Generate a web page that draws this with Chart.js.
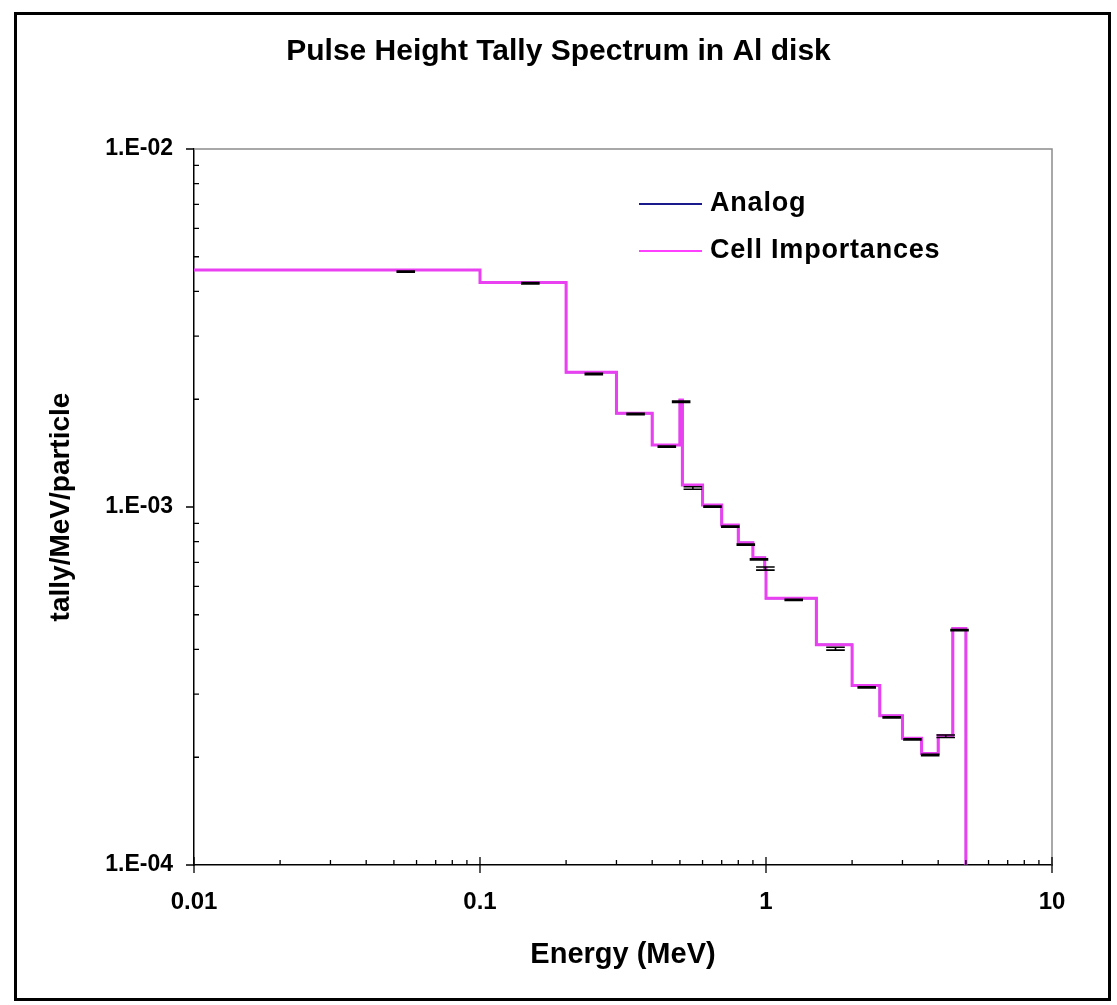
<!DOCTYPE html>
<html>
<head>
<meta charset="utf-8">
<title>Pulse Height Tally Spectrum in Al disk</title>
<script src="https://cdn.jsdelivr.net/npm/chart.js@4/dist/chart.umd.min.js"></script>
<style>
  html, body { margin: 0; padding: 0; background: #fff; }
  #wrap { position: relative; width: 1117px; height: 1005px; }
  #frame { position: absolute; left: 14px; top: 12px; width: 1097px; height: 989px;
           border: 3px solid #000; box-sizing: border-box; pointer-events: none; }
</style>
</head>
<body>
<div id="wrap">
  <canvas id="phtChart" width="1117" height="1005"></canvas>
  <div id="frame"></div>
</div>
<script>
// energy bin edges (MeV)
const binEdges = [0.01, 0.1, 0.2, 0.3, 0.4, 0.5, 0.51, 0.6, 0.7, 0.8, 0.9, 0.99, 1.0,
                  1.5, 2.0, 2.5, 3.0, 3.5, 4.0, 4.5, 5.0];

// tally/MeV/particle per bin
const cellImpTally = [4.59e-3, 4.24e-3, 2.378e-3, 1.827e-3, 1.490e-3, 1.99e-3, 1.152e-3,
                      1.013e-3, 8.91e-4, 7.95e-4, 7.22e-4, 6.75e-4, 5.56e-4, 4.12e-4,
                      3.17e-4, 2.61e-4, 2.26e-4, 2.05e-4, 2.30e-4, 4.58e-4];
const analogTally = [4.59e-3, 4.24e-3, 2.378e-3, 1.827e-3, 1.490e-3, 1.99e-3, 1.152e-3,
                     1.013e-3, 8.91e-4, 7.95e-4, 7.22e-4, 6.75e-4, 5.56e-4, 4.12e-4,
                     3.17e-4, 2.61e-4, 2.26e-4, 2.05e-4, 2.30e-4, 4.58e-4];

// error bars (analog run), at bin midpoints
const errBarMean = [4.543e-3, 4.216e-3, 2.352e-3, 1.819e-3, 1.474e-3, 1.968e-3, 1.130e-3,
                    1.002e-3, 8.81e-4, 7.85e-4, 7.14e-4, 6.73e-4, 5.50e-4, 4.02e-4,
                    3.135e-4, 2.585e-4, 2.244e-4, 2.029e-4, 2.290e-4, 4.53e-4];
const errBarRel = [0.004, 0.004, 0.004, 0.004, 0.004, 0.005, 0.008, 0.004, 0.004, 0.004,
                   0.004, 0.010, 0.004, 0.009, 0.004, 0.004, 0.004, 0.004, 0.008, 0.004];

const yMin = 1e-4;
const yMax = 1e-2;
const xMin = 0.01;
const xMax = 10;

const FONT = '"Liberation Sans", Arial, sans-serif';

// histogram as step points; after the last edge the tally is zero -> drop to floor
function stepPoints(vals) {
  return binEdges.map((e, i) => ({ x: e, y: i < vals.length ? vals[i] : yMin }));
}

const titlePlugin = {
  id: 'mainTitle',
  afterDraw(chart) {
    const ctx = chart.ctx;
    ctx.save();
    ctx.font = 'bold 30px ' + FONT;
    ctx.fillStyle = '#000';
    ctx.textAlign = 'center';
    ctx.textBaseline = 'middle';
    ctx.fillText('Pulse Height Tally Spectrum in Al disk', chart.width / 2, 52);
    ctx.restore();
  }
};

const frameAndTicks = {
  id: 'frameAndTicks',
  afterDraw(chart) {
    const { ctx, chartArea: a, scales: { x, y } } = chart;
    ctx.save();
    // gray top / right of plot area
    ctx.strokeStyle = '#8c8c8c';
    ctx.lineWidth = 1.5;
    ctx.beginPath();
    ctx.moveTo(a.left, a.top);
    ctx.lineTo(a.right, a.top);
    ctx.lineTo(a.right, a.bottom);
    ctx.stroke();

    ctx.strokeStyle = '#000';
    ctx.lineWidth = 1.3;
    ctx.beginPath();
    for (let ex = -4; ex <= -2; ex++) {
      for (let m = 1; m <= 9; m++) {
        const v = m * Math.pow(10, ex);
        if (v > yMax * 1.0001) break;
        const py = y.getPixelForValue(v);
        if (m === 1) { ctx.moveTo(a.left - 8, py); ctx.lineTo(a.left, py); }
        else { ctx.moveTo(a.left, py); ctx.lineTo(a.left + 5, py); }
      }
    }
    for (let ex = -2; ex <= 1; ex++) {
      for (let m = 1; m <= 9; m++) {
        const v = m * Math.pow(10, ex);
        if (v > xMax * 1.0001) break;
        const px = x.getPixelForValue(v);
        if (m === 1) { ctx.moveTo(px, a.bottom - 8); ctx.lineTo(px, a.bottom + 8); }
        else { ctx.moveTo(px, a.bottom); ctx.lineTo(px, a.bottom - 5); }
      }
    }
    ctx.stroke();
    ctx.restore();
  }
};

const errorBars = {
  id: 'errorBars',
  afterDatasetsDraw(chart) {
    const { ctx, scales: { x, y } } = chart;
    ctx.save();
    ctx.strokeStyle = '#000';
    ctx.lineWidth = 1.6;
    ctx.beginPath();
    errBarMean.forEach((m, i) => {
      const mid = (binEdges[i] + binEdges[i + 1]) / 2;
      const px = x.getPixelForValue(mid);
      const yHi = y.getPixelForValue(m * (1 + errBarRel[i]));
      const yLo = y.getPixelForValue(m * (1 - errBarRel[i]));
      ctx.moveTo(px - 9.3, yHi); ctx.lineTo(px + 9.3, yHi);
      ctx.moveTo(px - 9.3, yLo); ctx.lineTo(px + 9.3, yLo);
      ctx.moveTo(px, yHi); ctx.lineTo(px, yLo);
    });
    ctx.stroke();
    ctx.restore();
  }
};

const legendBox = {
  id: 'legendBox',
  afterDraw(chart) {
    const ctx = chart.ctx;
    const rows = [
      { ds: chart.data.datasets[0], y: 204, color: '#1a1a8c' },
      { ds: chart.data.datasets[1], y: 251, color: '#ff40ff' }
    ];
    ctx.save();
    ctx.font = 'bold 27px ' + FONT;
    ctx.letterSpacing = '0.8px';
    ctx.textBaseline = 'middle';
    ctx.fillStyle = '#000';
    rows.forEach(r => {
      ctx.strokeStyle = r.color;
      ctx.lineWidth = 2;
      ctx.beginPath();
      ctx.moveTo(639, r.y);
      ctx.lineTo(702, r.y);
      ctx.stroke();
      ctx.fillText(r.ds.label, 710, r.y);
    });
    ctx.restore();
  }
};

new Chart(document.getElementById('phtChart'), {
  type: 'line',
  data: {
    datasets: [
      {
        label: 'Analog',
        data: stepPoints(analogTally),
        borderColor: '#000080',
        borderWidth: 2,
        stepped: 'before',
        pointRadius: 0,
        fill: false,
        order: 2
      },
      {
        label: 'Cell Importances',
        data: stepPoints(cellImpTally),
        borderColor: '#e940f2',
        borderWidth: 3,
        stepped: 'before',
        pointRadius: 0,
        fill: false,
        order: 1
      }
    ]
  },
  options: {
    responsive: false,
    animation: false,
    layout: { padding: { top: 149, right: 65, left: 0, bottom: 0 } },
    plugins: {
      legend: { display: false },
      title: { display: false },
      tooltip: { enabled: false }
    },
    scales: {
      x: {
        type: 'logarithmic',
        min: xMin,
        max: xMax,
        afterFit(scale) { scale.height = 140; },
        grid: { display: false, drawTicks: false },
        border: { display: true, color: '#000', width: 1.5 },
        ticks: {
          autoSkip: false,
          maxRotation: 0,
          padding: 23,
          color: '#000',
          font: { family: FONT, size: 24, weight: 'bold' },
          callback(v) {
            const lg = Math.log10(v);
            if (Math.abs(lg - Math.round(lg)) > 1e-9) return '';
            return String(Number(v.toPrecision(6)));
          }
        },
        title: {
          display: true,
          text: 'Energy (MeV)',
          color: '#000',
          font: { family: FONT, size: 29, weight: 'bold' },
          padding: { top: 0, bottom: 33 }
        }
      },
      y: {
        type: 'logarithmic',
        min: yMin,
        max: yMax,
        afterFit(scale) { scale.width = 194; },
        grid: { display: false, drawTicks: false },
        border: { display: true, color: '#000', width: 1.5 },
        ticks: {
          autoSkip: false,
          padding: 21,
          color: '#000',
          font: { family: FONT, size: 23, weight: 'bold' },
          callback(v) {
            const lg = Math.log10(v);
            if (Math.abs(lg - Math.round(lg)) > 1e-9) return '';
            return '1.E-' + String(-Math.round(lg)).padStart(2, '0');
          }
        },
        title: {
          display: true,
          text: 'tally/MeV/particle',
          color: '#000',
          font: { family: FONT, size: 28, weight: 'bold' },
          padding: { top: 44, bottom: 0 }
        }
      }
    }
  },
  plugins: [errorBars, frameAndTicks, legendBox, titlePlugin]
});
</script>
</body>
</html>
